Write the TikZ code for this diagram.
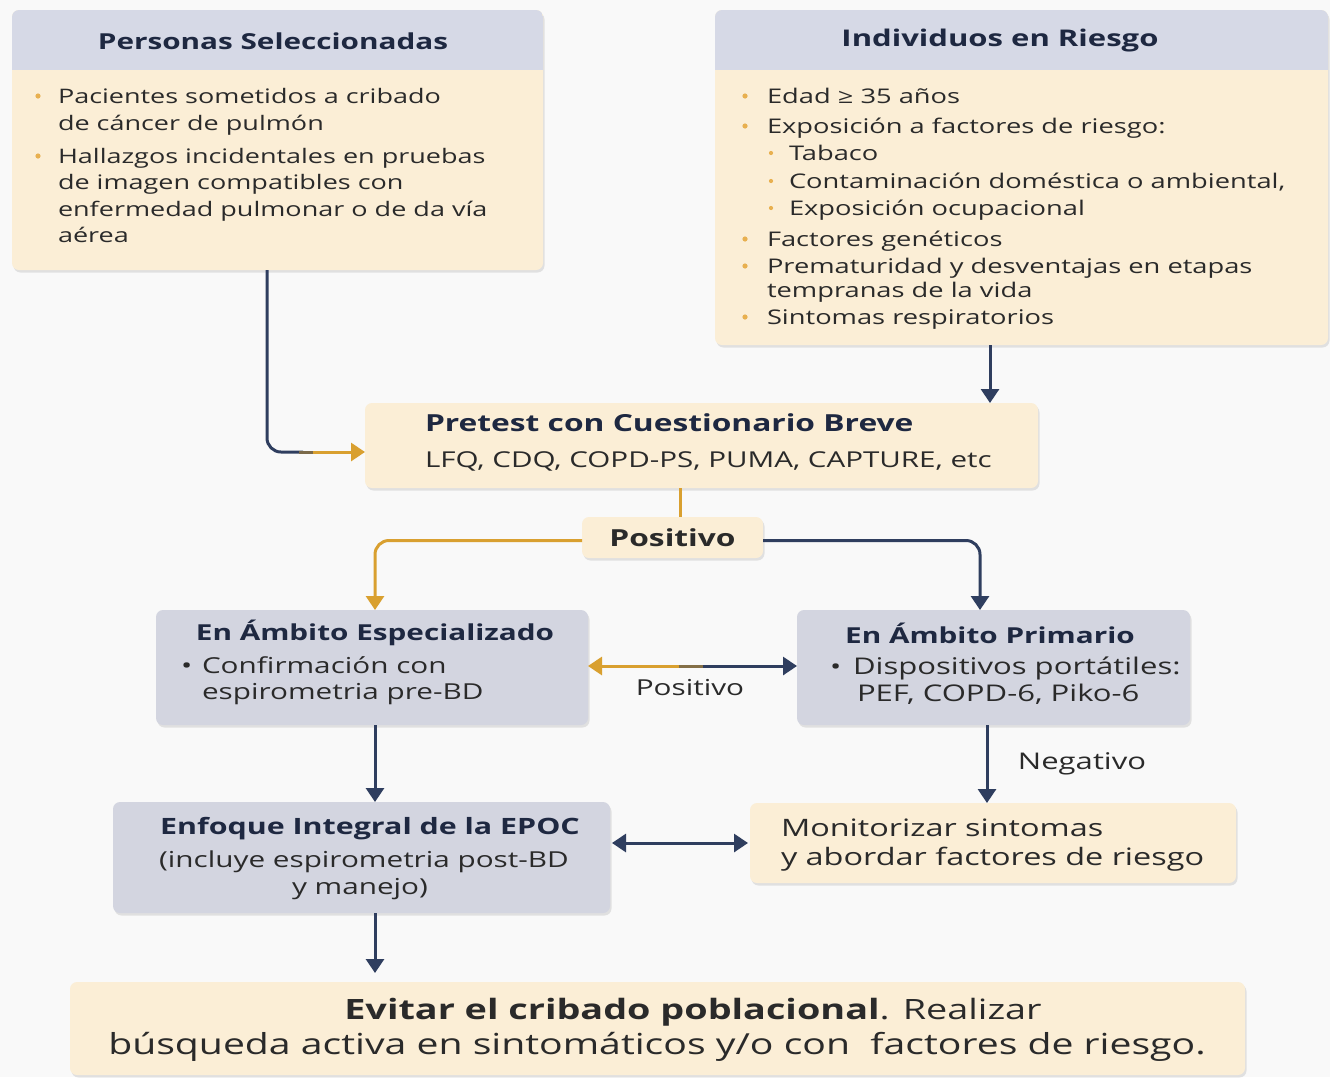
\documentclass[tikz,border=0pt]{standalone}
\usepackage{fontspec}
\setmainfont[FakeStretch=1.35]{Open Sans}
\usetikzlibrary{arrows.meta,shadows,calc}
\definecolor{cream}{HTML}{FBEED6}
\definecolor{hdr}{HTML}{D6D9E6}
\definecolor{grayb}{HTML}{D3D5E0}
\definecolor{navy}{HTML}{2F3E5F}
\definecolor{gold}{HTML}{D9A030}
\definecolor{dotc}{HTML}{E8B050}
\definecolor{ink}{HTML}{2A2A2A}
\definecolor{hink}{HTML}{1E2841}
\definecolor{bgc}{HTML}{F9F9F9}
\begin{document}
\begin{tikzpicture}[x=1pt,y=-1pt,
 box/.style={rounded corners=7pt, inner sep=0pt, outer sep=0pt,
   drop shadow={shadow xshift=1.5pt,shadow yshift=-2.5pt,opacity=0.2}},
 cbox/.style={box, fill=cream},
 gbox/.style={box, fill=grayb},
 txt/.style={inner sep=0pt, outer sep=0pt, anchor=west, text=ink, text height=14pt, text depth=4pt,
   yshift=-2.5pt, font=\fontsize{20}{24}\selectfont},
 ltxt/.style={txt, font=\fontsize{22}{26}\selectfont},
 ctxt/.style={ltxt, anchor=center},
 rtxt/.style={txt, font=\fontsize{20.2}{24}\selectfont},
 htxt/.style={inner sep=0pt, anchor=center, text=hink, font=\fontsize{22}{26}\bfseries\selectfont},
 tip/.tip={Triangle[width=18pt,length=14pt]},
 conn/.style={line width=3pt, -tip},
 dconn/.style={line width=3pt, tip-tip},
]
\useasboundingbox[fill=bgc] (0,0) rectangle (1330,1077);

% ---------- boxes ----------
\node[cbox, minimum width=531pt, minimum height=260pt] (b1) at (277.5,140) {};
\begin{scope}
 \clip[rounded corners=7pt] (b1.north west) rectangle (b1.south east);
 \fill[hdr] (b1.north west) rectangle ([yshift=-60pt]b1.north east);
\end{scope}
\node[cbox, minimum width=613pt, minimum height=335pt] (b2) at (1021.5,177.5) {};
\begin{scope}
 \clip[rounded corners=7pt] (b2.north west) rectangle (b2.south east);
 \fill[hdr] (b2.north west) rectangle ([yshift=-60pt]b2.north east);
\end{scope}
\node[cbox, minimum width=673pt, minimum height=85pt] (pre) at (701.5,445.5) {};
\node[cbox, minimum width=181pt, minimum height=41pt] (pos) at (672.5,537.5) {};
\node[gbox, minimum width=432pt, minimum height=115pt] (esp) at (372,667.5) {};
\node[gbox, minimum width=393pt, minimum height=115pt] (prim) at (993.5,667.5) {};
\node[gbox, minimum width=497pt, minimum height=111pt] (enf) at (361.5,857.5) {};
\node[cbox, minimum width=486pt, minimum height=80pt] (mon) at (993,843) {};
\node[cbox, minimum width=1175pt, minimum height=93pt] (fin) at (657.5,1028.5) {};

% ---------- box 1 text ----------
\node[htxt] (h1) at (273,41) {Personas Seleccionadas};
\fill[dotc] (38,96) circle (2.6pt);
\fill[dotc] (38,156) circle (2.6pt);
\node[txt] (l1a) at (58,96) {Pacientes sometidos a cribado};
\node[txt] (l1b) at (58,123) {de cáncer de pulmón};
\node[txt] (l1c) at (58,156) {Hallazgos incidentales en pruebas};
\node[txt] (l1d) at (58,182) {de imagen compatibles con};
\node[txt] (l1e) at (58,209) {enfermedad pulmonar o de da vía};
\node[txt] (l1f) at (58,235) {aérea};

% ---------- box 2 text ----------
\node[htxt, font=\fontsize{23}{27}\bfseries\selectfont] (h2) at (1000,41) {Individuos en Riesgo};
\foreach \yy in {96,126,239,266,317} {\fill[dotc] (745,\yy) circle (2.6pt);}
\foreach \yy in {153,181,208} {\fill[dotc] (771,\yy) circle (2.1pt);}
\node[rtxt] (l2a) at (767,96) {Edad ≥ 35 años};
\node[rtxt] (l2b) at (767,126) {Exposición a factores de riesgo:};
\node[rtxt] (l2c) at (789,153) {Tabaco};
\node[rtxt] (l2d) at (789,181) {Contaminación doméstica o ambiental,};
\node[rtxt] (l2e) at (789,208) {Exposición ocupacional};
\node[rtxt] (l2f) at (767,239) {Factores genéticos};
\node[rtxt] (l2g) at (767,266) {Prematuridad y desventajas en etapas};
\node[rtxt] (l2h) at (767,290) {tempranas de la vida};
\node[rtxt] (l2i) at (767,317) {Sintomas respiratorios};

% ---------- pretest ----------
\node[txt, text=hink, font=\fontsize{23.5}{28}\bfseries\selectfont] (pt1) at (425,424) {Pretest con Cuestionario Breve};
\node[txt, font=\fontsize{21.9}{26}\selectfont] (pt2) at (425,460) {LFQ, CDQ, COPD-PS, PUMA, CAPTURE, etc};
\node[htxt, text=ink, font=\fontsize{23.5}{28}\bfseries\selectfont] (pst) at (pos.center) {Positivo};

% ---------- especializado / primario ----------
\node[htxt] (he) at (375,633) {En Ámbito Especializado};
\node[ltxt] (be) at (181,666) {•};
\node[ltxt] (le1) at (202,666) {Confirmación con};
\node[ltxt] (le2) at (202,692) {espirometria pre-BD};
\node[htxt] (hp) at (990,633) {En Ámbito Primario};
\node[ltxt] (bp) at (830,667) {•};
\node[ltxt, font=\fontsize{23}{27}\selectfont] (lp1) at (853,667) {Dispositivos portátiles:};
\node[ltxt, font=\fontsize{23}{27}\selectfont] (lp2) at (857,694) {PEF, COPD-6, Piko-6};
\node[ctxt] (lpos) at (690,688) {Positivo};
\node[ctxt, font=\fontsize{23}{27}\selectfont] (lneg) at (1082,762) {Negativo};

% ---------- enfoque / monitorizar ----------
\node[htxt, font=\fontsize{22.5}{27}\bfseries\selectfont] (hf) at (370,829) {Enfoque Integral de la EPOC};
\node[ctxt] (lf1) at (364,860) {(incluye espirometria post-BD};
\node[ctxt] (lf2) at (360,887) {y manejo)};
\node[txt, font=\fontsize{24}{28}\selectfont] (lm1) at (781,829) {Monitorizar sintomas};
\node[txt, font=\fontsize{24}{28}\selectfont] (lm2) at (781,858) {y abordar factores de riesgo};

% ---------- final ----------
\node[ctxt, font=\fontsize{28}{32}\selectfont, text height=20pt, text depth=6pt] (fl1) at (693,1010) {\textbf{Evitar el cribado poblacional}. Realizar};
\node[ctxt, font=\fontsize{29}{33}\selectfont, text height=20pt, text depth=6pt] (fl2) at (657,1045) {búsqueda activa en sintomáticos y/o con\ \ factores de riesgo.};

% ---------- connectors ----------
\draw[navy, line width=3pt, rounded corners=14pt]
  ([xshift=-10.5pt]b1.south) |- ([xshift=-62pt,yshift=-6.5pt]pre.west);
\draw[navy!55!gold, line width=3pt] ([xshift=-66pt,yshift=-6.5pt]pre.west) -- ([xshift=-50pt,yshift=-6.5pt]pre.west);
\draw[gold, conn] ([xshift=-52pt,yshift=-6.5pt]pre.west) -- ([yshift=-6.5pt]pre.west);
\draw[navy, conn] ([xshift=-31.5pt]b2.south) -- ([xshift=-31.5pt]b2.south |- pre.north);
\draw[gold, line width=3pt] ([xshift=-21.5pt]pre.south) -- ([xshift=-21.5pt]pre.south |- pos.north);
\draw[gold, conn, rounded corners=14pt] ([yshift=-3pt]pos.west) -| ([xshift=3pt]esp.north);
\draw[navy, conn, rounded corners=14pt] ([yshift=-3pt]pos.east) -| ([xshift=-13.5pt]prim.north);
\coordinate (mid) at ($(esp.east)!0.5!(prim.west)$);
\draw[gold, line width=3pt, tip-] ([yshift=1.5pt]esp.east) -- ([xshift=-12pt,yshift=1.5pt]mid);
\draw[gold!50!navy, line width=3pt] ([xshift=-14pt,yshift=1.5pt]mid) -- ([xshift=12pt,yshift=1.5pt]mid);
\draw[navy, line width=3pt, -tip] ([xshift=10pt,yshift=1.5pt]mid) -- ([yshift=1.5pt]prim.west);
\draw[navy, conn] ([xshift=3pt]esp.south) -- ([xshift=3pt]esp.south |- enf.north);
\draw[navy, conn] ([xshift=-6.5pt]prim.south) -- ([xshift=-6.5pt]prim.south |- mon.north);
\draw[navy, dconn] ([xshift=2pt]enf.east |- mon.west) -- ([xshift=-2pt]mon.west);
\draw[navy, conn, shorten >=9pt] ([xshift=13.5pt]enf.south) -- ([xshift=13.5pt]enf.south |- fin.north);
\end{tikzpicture}
\end{document}
